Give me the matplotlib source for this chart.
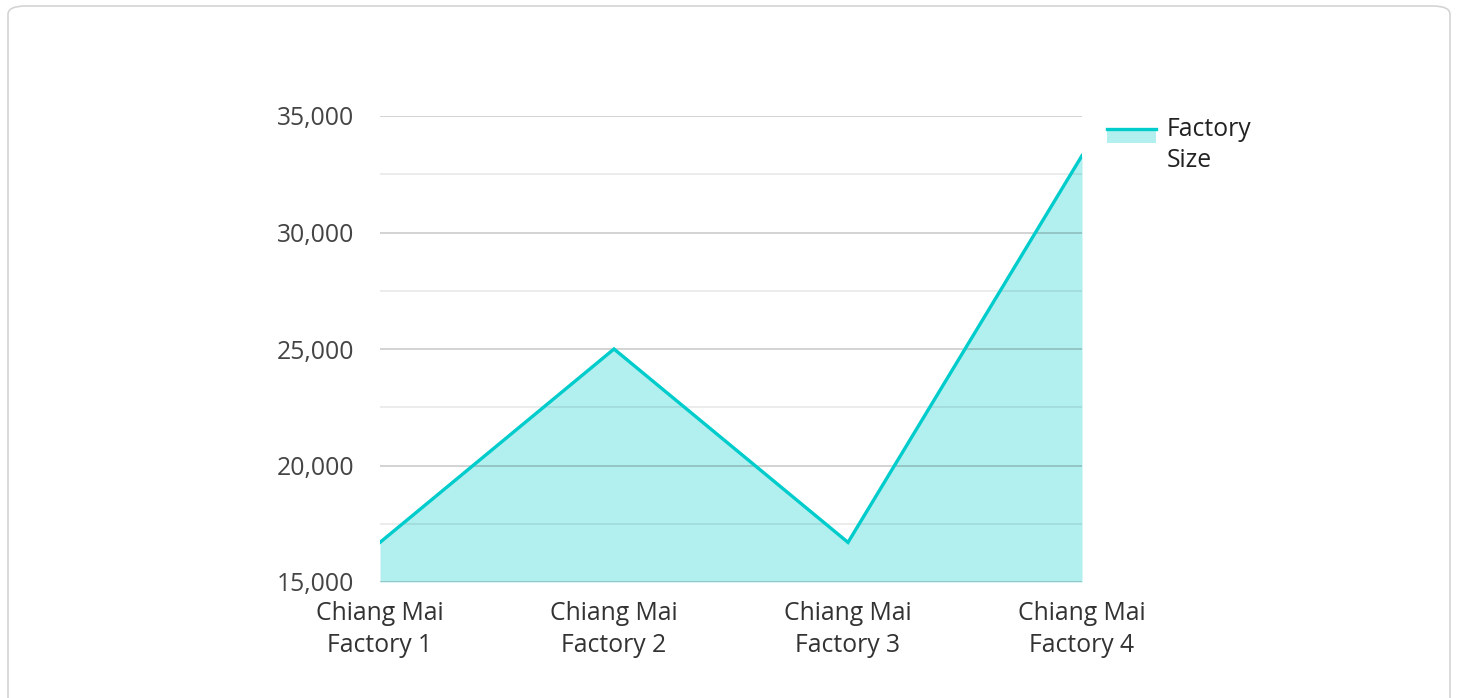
import matplotlib
matplotlib.use("Agg")
import matplotlib.pyplot as plt
from matplotlib.patches import FancyBboxPatch, Rectangle
from matplotlib.lines import Line2D
from matplotlib.legend_handler import HandlerBase
from matplotlib.ticker import FuncFormatter, MultipleLocator

categories = ["Chiang Mai\nFactory 1", "Chiang Mai\nFactory 2", "Chiang Mai\nFactory 3", "Chiang Mai\nFactory 4"]
factory_size = [16700, 25000, 16700, 33300]
series_name = "Factory\nSize"

plt.rcParams['font.family'] = ['Open Sans', 'DejaVu Sans']

W, H = 1458, 698
fig = plt.figure(figsize=(W / 100, H / 100), dpi=100)

card = FancyBboxPatch((8 / W, (H - 720) / H), 1442 / W, 714 / H,
                      boxstyle="round,pad=0,rounding_size=0.012",
                      transform=fig.transFigure, facecolor="white",
                      edgecolor="#d4d4d4", linewidth=1.2, zorder=-5)
fig.patches.append(card)

ax = fig.add_axes([380 / W, (H - 582) / H, 702 / W, 466 / H])
ax.set_facecolor("none")
ax.set_zorder(2)

FS = 17.8
line_color = "#00CCCC"
fill_color = "#B2EFEF"
x = list(range(len(categories)))
ax.fill_between(x, 15000, factory_size, color=fill_color, linewidth=0, zorder=1)
ax.plot(x, factory_size, color=line_color, linewidth=2.4, zorder=4,
        solid_joinstyle="miter")

ax.set_xlim(0, len(categories) - 1)
ax.set_ylim(15000, 35000)
ax.yaxis.set_major_locator(MultipleLocator(5000))
ax.yaxis.set_minor_locator(MultipleLocator(2500))
ax.yaxis.set_major_formatter(FuncFormatter(lambda v, p: f"{int(v):,}"))
ax.grid(axis="y", which="major", color="#000000", alpha=0.2, linewidth=1.2, zorder=2)
ax.grid(axis="y", which="minor", color="#000000", alpha=0.09, linewidth=1.2, zorder=2)
ax.set_axisbelow(False)
for s in ax.spines.values():
    s.set_visible(False)
ax.tick_params(axis="both", which="both", length=0)
ax.tick_params(axis="y", labelsize=FS, labelcolor="#444444", pad=18.5)
ax.tick_params(axis="x", labelsize=FS, labelcolor="#333333", pad=14)
ax.set_xticks(x)
ax.set_xticklabels(categories, linespacing=1.36)
for lab in ax.get_yticklabels():
    lab.set_verticalalignment("center_baseline")


class AreaHandler(HandlerBase):
    def create_artists(self, legend, orig_handle, xdescent, ydescent,
                       width, height, fontsize, trans):
        center = -ydescent + height / 2
        top = center + 0.68 * fontsize
        fh = 0.55 * fontsize
        r = Rectangle((-xdescent, top - fh), width, fh,
                      facecolor=fill_color, edgecolor="none", transform=trans)
        l = Line2D([-xdescent, -xdescent + width], [top, top],
                   color=line_color, linewidth=2.4, transform=trans)
        return [r, l]


handle = Rectangle((0, 0), 1, 1)
leg = ax.legend([handle], [series_name], handler_map={Rectangle: AreaHandler()},
                loc="upper left", bbox_to_anchor=(1.035, 0.998), frameon=False,
                fontsize=FS, handlelength=2.0, handletextpad=0.42,
                borderaxespad=0, borderpad=0)
for t in leg.get_texts():
    t.set_color("#222222")
    t.set_linespacing(1.32)

fig.savefig("out.png", dpi=100)
